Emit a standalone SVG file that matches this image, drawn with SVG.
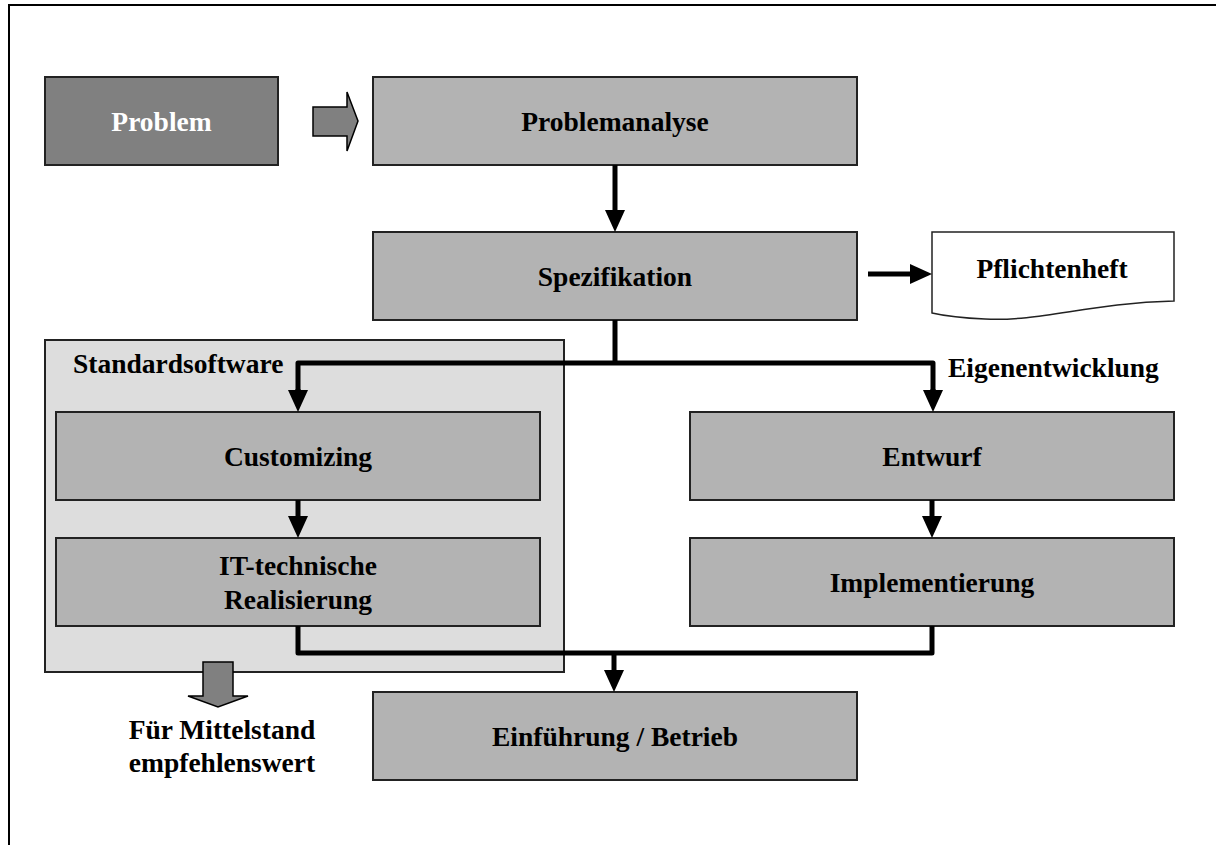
<svg xmlns="http://www.w3.org/2000/svg" width="1216" height="845" viewBox="0 0 1216 845">
<style>
  text { font-family: "Liberation Serif", "Times New Roman", serif; font-weight: bold; font-size: 27.5px; fill: #000; }
  .c { text-anchor: middle; }
  .box { fill: #b3b3b3; stroke: #222; stroke-width: 2; }
  .dark { fill: #808080; stroke: #222; stroke-width: 2; }
  .group { fill: #dddddd; stroke: #222; stroke-width: 2; }
  .doc { fill: #fff; stroke: #222; stroke-width: 1.5; }
  .blk { fill: #808080; stroke: #000; stroke-width: 1.5; }
  .conn { fill: none; stroke: #000; stroke-width: 5; stroke-linejoin: round; }
</style>
<defs>
  <marker id="ah" markerUnits="userSpaceOnUse" markerWidth="22" markerHeight="22" refX="0" refY="10" orient="auto" viewBox="0 0 22 20">
    <path d="M0,0 L22,10 L0,20 Z" fill="#000"/>
  </marker>
</defs>
<rect width="1216" height="845" fill="#fff"/>
<path d="M9,845 V5 H1216" fill="none" stroke="#000" stroke-width="2"/>

<g id="standardsoftware">
  <rect class="group" x="45" y="340" width="519" height="332"/>
  <text x="73" y="373">Standardsoftware</text>
</g>

<g id="problem">
  <rect class="dark" x="45" y="77" width="233" height="88"/>
  <text class="c" x="161.5" y="131" style="fill:#fff">Problem</text>
</g>
<g id="problem-arrow">
  <polygon class="blk" points="313,107 347,107 347,92 358,121 347,151 347,136 313,136"/>
</g>
<g id="problemanalyse">
  <rect class="box" x="373" y="77" width="484" height="88"/>
  <text class="c" x="615" y="131">Problemanalyse</text>
</g>
<g id="spezifikation">
  <rect class="box" x="373" y="232" width="484" height="88"/>
  <text class="c" x="615" y="286">Spezifikation</text>
</g>
<g id="pflichtenheft">
  <path class="doc" d="M932,232 L1174,232 L1174,301 C1090,303 1040,322 985,319 C960,318 945,316 932,313 Z"/>
  <text class="c" x="1052" y="278">Pflichtenheft</text>
</g>
<g id="customizing">
  <rect class="box" x="56" y="412" width="484" height="88"/>
  <text class="c" x="298" y="466">Customizing</text>
</g>
<g id="it-realisierung">
  <rect class="box" x="56" y="538" width="484" height="88"/>
  <text class="c" x="298" y="575">IT-technische</text>
  <text class="c" x="298" y="609">Realisierung</text>
</g>
<g id="eigenentwicklung-label">
  <text x="948" y="377">Eigenentwicklung</text>
</g>
<g id="entwurf">
  <rect class="box" x="690" y="412" width="484" height="88"/>
  <text class="c" x="932" y="466">Entwurf</text>
</g>
<g id="implementierung">
  <rect class="box" x="690" y="538" width="484" height="88"/>
  <text class="c" x="932" y="592">Implementierung</text>
</g>
<g id="einfuehrung">
  <rect class="box" x="373" y="692" width="484" height="88"/>
  <text class="c" x="615" y="746">Einführung / Betrieb</text>
</g>
<g id="mittelstand">
  <polygon class="blk" points="203,662 233,662 233,696 248,696 218,707 188,696 203,696"/>
  <text class="c" x="222" y="739">Für Mittelstand</text>
  <text class="c" x="222" y="772">empfehlenswert</text>
</g>

<g id="connectors">
  <path class="conn" d="M615,165 V210" marker-end="url(#ah)"/>
  <path class="conn" d="M868,274 H910" marker-end="url(#ah)"/>
  <path class="conn" d="M615,320 V363"/>
  <path class="conn" d="M298,390 V363 H933 V390"/>
  <path class="conn" d="M298,389 V390" marker-end="url(#ah)"/>
  <path class="conn" d="M933,389 V390" marker-end="url(#ah)"/>
  <path class="conn" d="M298,500 V516" marker-end="url(#ah)"/>
  <path class="conn" d="M932,500 V516" marker-end="url(#ah)"/>
  <path class="conn" d="M298,626 V653 H932 V626"/>
  <path class="conn" d="M614,653 V670" marker-end="url(#ah)"/>
</g>
</svg>
